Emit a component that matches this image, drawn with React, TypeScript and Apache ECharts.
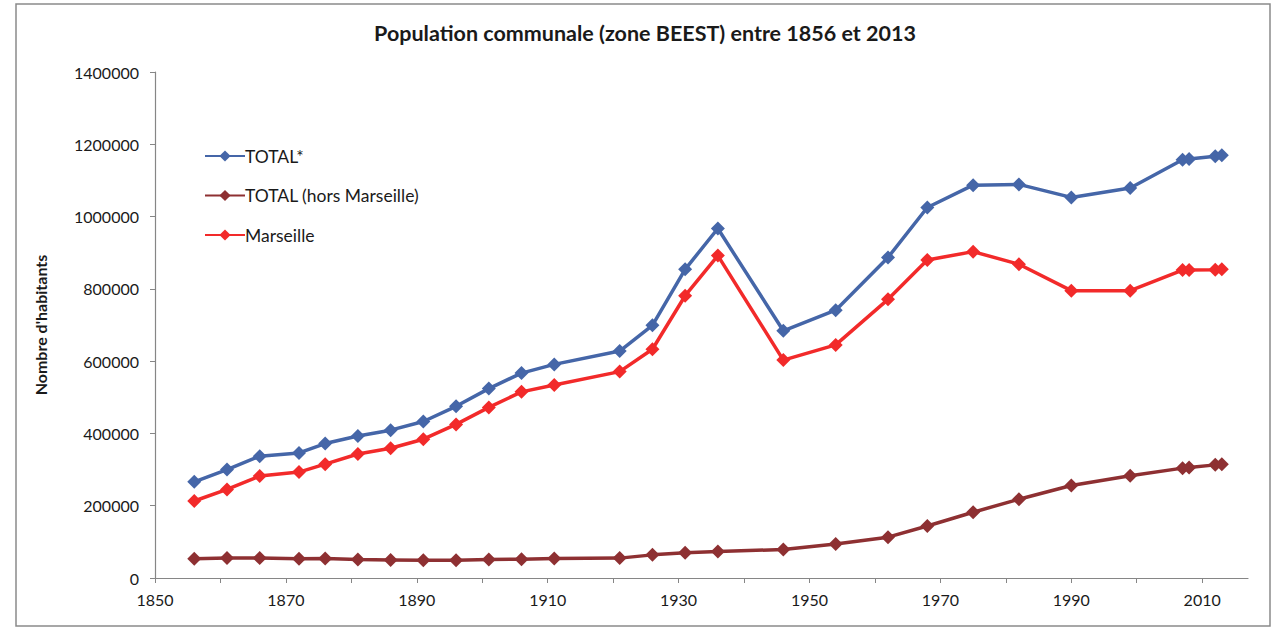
import React, { useEffect, useRef } from "react";
import * as echarts from "echarts";

const years = [1856, 1861, 1866, 1872, 1876, 1881, 1886, 1891, 1896, 1901, 1906, 1911, 1921, 1926, 1931, 1936, 1946, 1954, 1962, 1968, 1975, 1982, 1990, 1999, 2007, 2008, 2012, 2013];

const total = [266000, 300000, 337000, 346000, 372000, 393000, 409000, 433000, 475000, 524000, 567000, 591000, 628000, 699000, 854000, 967000, 684000, 741000, 887000, 1025000, 1087000, 1089000, 1053000, 1079000, 1157000, 1159000, 1167000, 1170000];

const horsMarseille = [53000, 55000, 55000, 53000, 54000, 51000, 50000, 49000, 49000, 51000, 52000, 54000, 55000, 64000, 70000, 73000, 79000, 94000, 113000, 144000, 182000, 218000, 256000, 283000, 304000, 306000, 313000, 315000];

const marseille = [213000, 245000, 282000, 293000, 315000, 343000, 359000, 384000, 425000, 472000, 515000, 534000, 571000, 633000, 781000, 892000, 603000, 645000, 771000, 880000, 903000, 868000, 795000, 795000, 852000, 852000, 853000, 854000];

const xTicks = [1850, 1860, 1870, 1880, 1890, 1900, 1910, 1920, 1930, 1940, 1950, 1960, 1970, 1980, 1990, 2000, 2010];
const xLabels = [1850, 1870, 1890, 1910, 1930, 1950, 1970, 1990, 2010];

const seriesNames = ["TOTAL*", "TOTAL (hors Marseille)", "Marseille"];
const seriesColors = ["#4566a8", "#8e3032", "#f22a2a"];
const seriesData = [total, horsMarseille, marseille];

const FONT = "Lato";

export default function App() {
  const ref = useRef<HTMLDivElement>(null);

  useEffect(() => {
    document.body.style.margin = "0";
    const chart = echarts.init(ref.current!, null, { renderer: "svg" });
    chart.setOption({
      animation: false,
      backgroundColor: "#ffffff",
      textStyle: { fontFamily: FONT },
      title: {
        text: "Population communale (zone BEEST) entre 1856 et 2013",
        left: 640,
        top: 17,
        textAlign: "center",
        textStyle: { fontFamily: FONT, fontSize: 21.5, fontWeight: "bold", color: "#1a1a1a" },
      },
      graphic: [
        {
          type: "rect",
          shape: { x: 16, y: 4, width: 1254, height: 622 },
          style: { fill: "none", stroke: "#8a8a8a", lineWidth: 1.5 },
          silent: true,
        },
      ],
      legend: {
        orient: "vertical",
        left: 199,
        top: 142,
        itemWidth: 40,
        itemHeight: 14,
        itemGap: 21.5,
        data: seriesNames,
        textStyle: { fontFamily: FONT, fontSize: 17.5, color: "#1a1a1a", padding: [0, 0, 0, -5] },
      },
      grid: { left: 155, top: 72, right: 27, bottom: 50, containLabel: false },
      xAxis: {
        type: "value",
        min: 1850,
        max: 2017,
        axisLine: { show: true, lineStyle: { color: "#868686", width: 1.2 } },
        axisTick: { show: true, inside: false, length: 5, customValues: xTicks, lineStyle: { color: "#868686" } },
        axisLabel: { customValues: xLabels, formatter: (v: number) => String(v), fontFamily: FONT, fontSize: 16, color: "#1a1a1a", margin: 13 },
        splitLine: { show: false },
      },
      yAxis: {
        type: "value",
        min: 0,
        max: 1400000,
        interval: 200000,
        name: "Nombre d'habitants",
        nameLocation: "middle",
        nameGap: 107,
        nameTextStyle: { fontFamily: FONT, fontSize: 16, fontWeight: "bold", color: "#1a1a1a" },
        axisLine: { show: true, lineStyle: { color: "#868686", width: 1.2 } },
        axisTick: { show: true, inside: false, length: 5, lineStyle: { color: "#868686" } },
        axisLabel: { formatter: (v: number) => String(v), fontFamily: FONT, fontSize: 16, color: "#1a1a1a", margin: 16 },
        splitLine: { show: false },
      },
      series: seriesNames.map((name, i) => ({
        name,
        type: "line",
        data: years.map((y, j) => [y, seriesData[i][j]]),
        symbol: "diamond",
        symbolSize: 14,
        lineStyle: { color: seriesColors[i], width: 3.5 },
        itemStyle: { color: seriesColors[i] },
        z: 3 - i,
      })),
    });
    return () => chart.dispose();
  }, []);

  return <div ref={ref} style={{ width: 1275, height: 628 }} />;
}
